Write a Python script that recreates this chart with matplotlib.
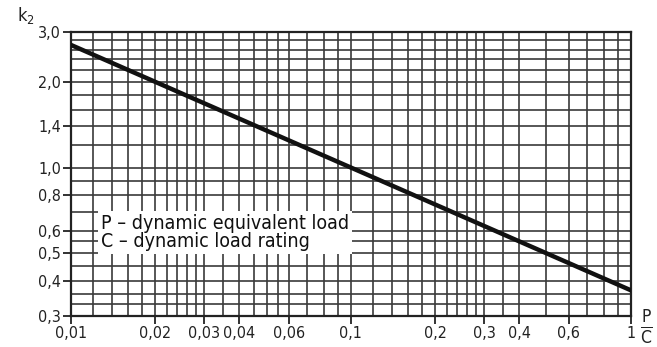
import matplotlib
matplotlib.use('Agg')
import matplotlib.pyplot as plt
from matplotlib import font_manager
from matplotlib.ticker import FixedLocator, FixedFormatter, NullFormatter

# ==========================================
# DATOS
# ==========================================
load_ratio = [0.01, 0.1, 1.0]          # P/C
k2_values = [2.7, 1.0, 0.37]

x_ticks = [0.01, 0.02, 0.03, 0.04, 0.06, 0.1, 0.2, 0.3, 0.4, 0.6, 1.0]
x_labels = ['0,01', '0,02', '0,03', '0,04', '0,06', '0,1', '0,2', '0,3', '0,4', '0,6', '1']
y_ticks = [0.3, 0.4, 0.5, 0.6, 0.8, 1.0, 1.4, 2.0, 3.0]
y_labels = ['0,3', '0,4', '0,5', '0,6', '0,8', '1,0', '1,4', '2,0', '3,0']

x_grid = [0.012, 0.014, 0.016, 0.018, 0.022, 0.024, 0.026, 0.028, 0.035,
          0.045, 0.05, 0.055, 0.07, 0.08, 0.09, 0.12, 0.14, 0.16, 0.18,
          0.22, 0.24, 0.26, 0.28, 0.35, 0.5, 0.7, 0.8, 0.9]
y_grid = [0.33, 0.36, 0.45, 0.55, 0.7, 0.9, 1.2, 1.6, 1.8, 2.2, 2.4, 2.6, 2.8]

legend_text = 'P – dynamic equivalent load\nC – dynamic load rating'

# ==========================================
# FIGURA
# ==========================================
# Fuente estrecha si existe (DejaVu Sans Condensed)
names = {f.name for f in font_manager.fontManager.ttflist}
narrow = [n for n in ['Liberation Sans Narrow', 'DejaVu Sans'] if n in names]
plt.rcParams['font.family'] = narrow + ['DejaVu Sans']
plt.rcParams['font.stretch'] = 'condensed'
plt.rcParams['mathtext.fontset'] = 'dejavusans'

fig = plt.figure(figsize=(6.57, 3.47), dpi=100)
ax = fig.add_axes([0.108, 0.089, 0.852, 0.819])

ax.set_xscale('log')
ax.set_yscale('log')
ax.set_xlim(0.01, 1.0)
ax.set_ylim(0.3, 3.0)

ax.xaxis.set_major_locator(FixedLocator(x_ticks))
ax.xaxis.set_major_formatter(FixedFormatter(x_labels))
ax.xaxis.set_minor_locator(FixedLocator(x_grid))
ax.xaxis.set_minor_formatter(NullFormatter())
ax.yaxis.set_major_locator(FixedLocator(y_ticks))
ax.yaxis.set_major_formatter(FixedFormatter(y_labels))
ax.yaxis.set_minor_locator(FixedLocator(y_grid))
ax.yaxis.set_minor_formatter(NullFormatter())

ax.tick_params(which='major', length=6, width=1.3, color='#222222',
               labelsize=11.5, labelcolor='#222222', pad=1)
ax.tick_params(which='minor', length=0)

ax.grid(True, which='both', color='#3a3a3a', linewidth=1.2)
ax.set_axisbelow(True)
for sp in ax.spines.values():
    sp.set_linewidth(1.6)
    sp.set_color('#222222')

ax.plot(load_ratio, k2_values, color='#111111', linewidth=3.2, zorder=4)

ax.text(0.0128, 0.685, legend_text, fontsize=14, color='#111111',
        va='top', ha='left', linespacing=0.95, zorder=3,
        bbox=dict(facecolor='white', edgecolor='none', pad=2))

fig.text(0.026, 0.955, 'k$_2$', fontsize=13, color='#222222', ha='left', va='center')
fig.text(0.984, 0.058, r'$\mathrm{\frac{P}{C}}$', fontsize=18, color='#222222',
         ha='center', va='center')

fig.savefig('out.png', dpi=100)
